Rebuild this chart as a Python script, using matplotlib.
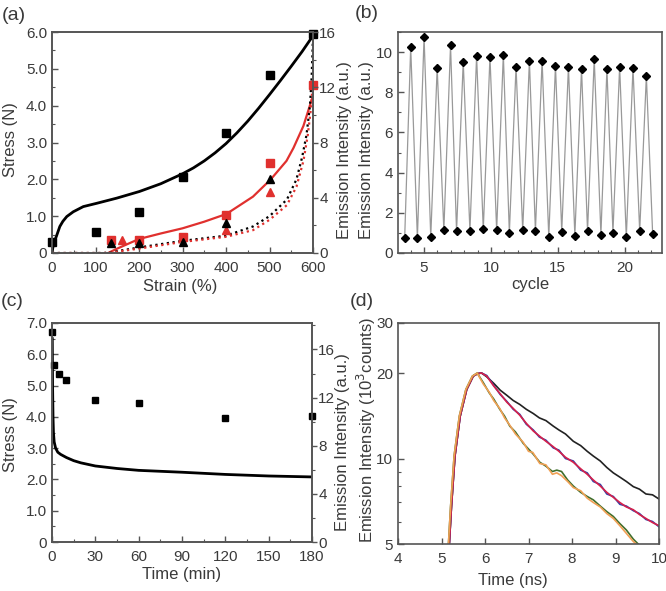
import matplotlib
matplotlib.use("Agg")
import matplotlib.pyplot as plt
from matplotlib.ticker import FixedLocator, NullFormatter, MultipleLocator

plt.rcParams['font.family'] = ['Liberation Sans', 'DejaVu Sans']
plt.rcParams['axes.linewidth'] = 1.2
plt.rcParams['text.color'] = '#333333'

W, H = 666, 591
SP = '#555555'
TXT = '#3a3a3a'
RED = '#e0302e'
TS = 11

# ---------------- data: panel (a) ----------------
a_yticks = [0, 1, 2, 3, 4, 5, 6]
a_yticklabels = ['0', '1.0', '2.0', '3.0', '4.0', '5.0', '6.0']
a_xticks = [0, 100, 200, 300, 400, 500, 600]
a_rticks = [0, 4, 8, 12, 16]

a_bk_fit_x = [0, 2, 5, 10, 18, 25, 34, 49, 72, 103, 149, 201, 250, 300, 325, 350, 375, 400, 425, 450, 475, 500, 525, 550, 575, 600]
a_bk_fit_y = [0, 0.15, 0.3, 0.45, 0.72, 0.86, 0.99, 1.12, 1.26, 1.35, 1.49, 1.67, 1.88, 2.15, 2.31, 2.5, 2.72, 2.97, 3.26, 3.58, 3.93, 4.3, 4.68, 5.07, 5.47, 5.9]
a_rd_fit_x = [129, 150, 200, 250, 300, 350, 401, 462, 503, 539, 555, 578, 600]
a_rd_fit_y = [0, 0.12, 0.38, 0.53, 0.67, 0.85, 1.06, 1.53, 2.0, 2.5, 2.85, 3.45, 4.27]
a_bk_dot_x = [0, 60, 120, 140, 200, 300, 400, 462, 500, 540, 562, 575, 585, 593, 597, 600]
a_bk_dot_y = [0, 0, 0, 0.03, 0.15, 0.33, 0.47, 0.72, 1.0, 1.45, 2.0, 2.6, 3.2, 4.0, 4.8, 5.9]
a_rd_dot_x = [0, 60, 120, 140, 200, 300, 400, 462, 500, 540, 562, 578, 588, 595, 600]
a_rd_dot_y = [0, 0, 0, 0.02, 0.12, 0.3, 0.44, 0.62, 0.9, 1.3, 1.8, 2.5, 3.2, 3.9, 4.7]

a_bk_sq_x = [0, 100, 200, 300, 400, 500, 600]
a_bk_sq_y = [0.31, 0.58, 1.11, 2.06, 3.27, 4.83, 5.95]
a_rd_sq_x = [135, 200, 300, 400, 500, 600]
a_rd_sq_y = [0.34, 0.36, 0.44, 1.03, 2.45, 4.55]
a_bk_tr_x = [135, 200, 300, 400, 500]
a_bk_tr_y = [0.28, 0.28, 0.3, 0.82, 2.01]
a_rd_tr_x = [160, 400, 500]
a_rd_tr_y = [0.35, 0.62, 1.66]

# ---------------- data: panel (b) ----------------
b_cycle = [3.55, 4.0, 4.5, 5.0, 5.5, 5.98, 6.48, 6.98, 7.43, 7.93, 8.43, 8.93, 9.43, 9.93,
           10.43, 10.93, 11.38, 11.88, 12.38, 12.88, 13.33, 13.83, 14.33, 14.83, 15.3,
           15.8, 16.28, 16.78, 17.23, 17.73, 18.23, 18.68, 19.13, 19.63, 20.13, 20.63,
           21.13, 21.63, 22.1]
b_intensity = [0.75, 10.25, 0.75, 10.75, 0.8, 9.22, 1.13, 10.33, 1.08, 9.52, 1.1, 9.8,
               1.17, 9.77, 1.13, 9.87, 1.0, 9.27, 1.13, 9.57, 1.1, 9.57, 0.8, 9.32, 1.07,
               9.27, 0.87, 9.17, 1.08, 9.67, 0.92, 9.17, 1.02, 9.27, 0.78, 9.22, 1.08,
               8.8, 0.95]
b_xticks = [5, 10, 15, 20]
b_yticks = [0, 2, 4, 6, 8, 10]

# ---------------- data: panel (c) ----------------
c_time_fit = [0.2, 0.4, 0.7, 1.0, 1.5, 2.5, 4, 6, 10, 15, 20, 30, 45, 60, 90, 120, 150, 180]
c_stress_fit = [6.5, 5.0, 4.0, 3.5, 3.2, 3.0, 2.87, 2.8, 2.7, 2.6, 2.53, 2.43, 2.35, 2.29, 2.23, 2.16, 2.11, 2.08]
c_time_pts = [0, 1.5, 5, 10, 30, 60, 120, 180]
c_emis_pts = [17.47, 14.68, 13.95, 13.46, 11.8, 11.56, 10.32, 10.47]
c_xticks = [0, 30, 60, 90, 120, 150, 180]
c_yticks = [0, 1, 2, 3, 4, 5, 6, 7]
c_yticklabels = ['0', '1.0', '2.0', '3.0', '4.0', '5.0', '6.0', '7.0']
c_rticks = [0, 4, 8, 12, 16]

# ---------------- data: panel (d) ----------------
d_t_bk = [5.10, 5.18, 5.23, 5.31, 5.43, 5.58, 5.73, 5.83, 5.92, 6.04, 6.2, 6.35, 6.5, 6.65, 6.8,
          6.95, 7.11, 7.25, 7.4, 7.57, 7.7, 7.85, 8.03, 8.2, 8.35, 8.49, 8.65, 8.8, 8.95, 9.1,
          9.25, 9.41, 9.55, 9.7, 9.85, 10.0]
d_black = [3.8, 5.0, 6.8, 10.2, 14.1, 17.5, 19.5, 19.9, 20.0, 19.4, 18.4, 17.4, 16.7, 16.0, 15.5,
           14.9, 14.4, 13.9, 13.6, 13.0, 12.6, 12.2, 11.5, 11.1, 10.6, 10.2, 9.8, 9.3, 8.9, 8.6,
           8.3, 7.96, 7.8, 7.5, 7.45, 7.2]
d_red = [3.8, 5.0, 6.8, 10.2, 14.1, 17.5, 19.5, 19.9, 20.0, 19.5, 18.0, 16.9, 15.8, 15.0, 14.2,
         13.3, 12.5, 12.0, 11.5, 11.0, 10.6, 10.1, 9.7, 9.2, 8.8, 8.4, 8.0, 7.6, 7.3, 7.0,
         6.75, 6.6, 6.35, 6.15, 5.95, 5.8]
d_blue = [3.8, 5.0, 6.8, 10.2, 14.1, 17.5, 19.5, 19.9, 20.0, 19.6, 18.1, 16.8, 15.9, 14.9, 14.3,
          13.2, 12.6, 11.9, 11.6, 10.9, 10.7, 10.0, 9.8, 9.1, 8.9, 8.3, 8.1, 7.5, 7.35, 6.9,
          6.8, 6.55, 6.4, 6.1, 6.0, 5.75]
d_t_gr = [5.08, 5.16, 5.21, 5.29, 5.41, 5.56, 5.71, 5.82, 5.96, 6.1, 6.2, 6.34, 6.45, 6.57, 6.7,
          6.88, 7.0, 7.1, 7.26, 7.4, 7.55, 7.65, 7.76, 7.9, 8.03, 8.2, 8.35, 8.49, 8.65, 8.8,
          8.95, 9.1, 9.25, 9.41, 9.55]
d_green = [3.8, 5.0, 6.8, 10.2, 14.1, 17.5, 19.5, 20.0, 18.5, 17.0, 16.2, 14.9, 14.1, 13.0, 12.4,
           11.3, 10.8, 10.4, 9.7, 9.4, 9.0, 9.1, 9.0, 8.4, 8.0, 7.6, 7.35, 7.15, 6.8, 6.5,
           6.25, 5.9, 5.6, 5.2, 4.95]
d_orange = [3.8, 5.0, 6.8, 10.2, 14.1, 17.5, 19.5, 20.0, 18.3, 17.1, 16.0, 15.0, 13.9, 13.1, 12.2,
            11.4, 10.6, 10.5, 9.6, 9.5, 8.8, 8.9, 8.7, 8.3, 7.9, 7.7, 7.25, 7.0, 6.75, 6.4,
            6.15, 5.8, 5.45, 5.1, 4.9]
d_xticks = [4, 5, 6, 7, 8, 9, 10]
d_yticks = [5, 10, 20, 30]
d_yminor = [6, 7, 8, 9]

# ---------------- figure ----------------
fig = plt.figure(figsize=(W / 100, H / 100), dpi=100)


def add_ax(l, t, r, b):
    return fig.add_axes([l / W, 1 - b / H, (r - l) / W, (b - t) / H])


def style(ax):
    for s in ax.spines.values():
        s.set_color(SP)
    ax.tick_params(which='both', direction='in', colors=SP, labelcolor=TXT, labelsize=TS,
                   top=False, right=False)
    ax.tick_params(which='major', length=4, width=1)
    ax.tick_params(which='minor', length=2.5, width=0.8)
    ax.tick_params(axis='x', which='major', pad=5.5)


def style_right(axr):
    for s in axr.spines.values():
        s.set_color(SP)
    axr.tick_params(which='both', direction='out', colors=SP, labelcolor=TXT, labelsize=TS, pad=1)
    axr.tick_params(which='major', length=3.5, width=1)
    axr.tick_params(which='minor', length=2.5, width=0.8)


def ftext(x, y, s, rot=0, size=12):
    fig.text(x / W, 1 - y / H, s, rotation=rot, ha='center', va='center', fontsize=size, color=TXT)


# (a)
ax = add_ax(52, 32, 313, 253)
style(ax)
ax.plot(a_bk_fit_x, a_bk_fit_y, color='black', lw=2)
ax.plot(a_rd_fit_x, a_rd_fit_y, color=RED, lw=1.6)
ax.plot(a_bk_dot_x, a_bk_dot_y, color='black', lw=1.6, ls=(0, (1, 1.6)))
ax.plot(a_rd_dot_x, a_rd_dot_y, color=RED, lw=1.6, ls=(0, (1, 1.6)))
ax.plot(a_bk_sq_x, a_bk_sq_y, 's', color='black', ms=5.5, clip_on=False)
ax.plot(a_rd_sq_x, a_rd_sq_y, 's', color=RED, ms=5.5, clip_on=False)
ax.plot(a_rd_tr_x, a_rd_tr_y, '^', color=RED, ms=5.5, clip_on=False)
ax.plot(a_bk_tr_x, a_bk_tr_y, '^', color='black', ms=5.5, clip_on=False)
ax.set_xlim(0, 600)
ax.set_ylim(0, 6)
ax.set_xticks(a_xticks)
ax.set_yticks(a_yticks)
ax.set_yticklabels(a_yticklabels)
ax.xaxis.set_minor_locator(MultipleLocator(50))
ax.yaxis.set_minor_locator(MultipleLocator(0.5))
axr = ax.twinx()
axr.set_ylim(0, 16)
axr.set_yticks(a_rticks)
axr.yaxis.set_minor_locator(MultipleLocator(2))
style_right(axr)
ftext(11, 140, 'Stress (N)', rot=90)
ftext(180, 286, 'Strain (%)')
ftext(344, 150, 'Emission Intensity (a.u.)', rot=90)
ftext(14, 15, '(a)', size=14)

# (b)
ax = add_ax(398, 32, 662, 253)
style(ax)
ax.plot(b_cycle, b_intensity, color='#999999', lw=0.9, marker='D', ms=3.8,
        mfc='black', mec='black')
ax.set_xlim(3.05, 22.8)
ax.set_ylim(0, 11)
ax.set_xticks(b_xticks)
ax.set_yticks(b_yticks)
ax.xaxis.set_minor_locator(MultipleLocator(1))
ax.yaxis.set_minor_locator(MultipleLocator(1))
ftext(366, 150, 'Emission Intensity (a.u.)', rot=90)
ftext(530, 284, 'cycle')
ftext(367, 13, '(b)', size=14)

# (c)
ax = add_ax(52, 323, 312, 542)
style(ax)
ax.plot(c_time_fit, c_stress_fit, color='black', lw=2)
ax.set_xlim(0, 180)
ax.set_ylim(0, 7)
ax.set_xticks(c_xticks)
ax.set_yticks(c_yticks)
ax.set_yticklabels(c_yticklabels)
ax.xaxis.set_minor_locator(MultipleLocator(15))
ax.yaxis.set_minor_locator(MultipleLocator(0.5))
axr = ax.twinx()
axr.plot(c_time_pts, c_emis_pts, 's', color='black', ms=5, clip_on=False)
axr.set_ylim(0, 18.2)
axr.set_yticks(c_rticks)
axr.yaxis.set_minor_locator(MultipleLocator(2))
style_right(axr)
ftext(11, 435, 'Stress (N)', rot=90)
ftext(182, 574, 'Time (min)')
ftext(342, 442, 'Emission Intensity (a.u.)', rot=90)
ftext(12, 301, '(c)', size=14)

# (d)
ax = add_ax(398, 323, 659, 544)
style(ax)
ax.plot(d_t_bk, d_black, color='#222222', lw=1.2)
ax.plot(d_t_bk, d_blue, color='#3040a8', lw=1.2)
ax.plot(d_t_bk, d_red, color='#d6204a', lw=1.2)
ax.plot(d_t_gr, d_green, color='#3f6e2c', lw=1.2)
ax.plot(d_t_gr, d_orange, color='#f0a055', lw=1.2)
ax.set_yscale('log')
ax.set_xlim(4, 10)
ax.set_ylim(5, 30)
ax.set_xticks(d_xticks)
ax.yaxis.set_major_locator(FixedLocator(d_yticks))
ax.yaxis.set_minor_locator(FixedLocator(d_yminor))
ax.yaxis.set_minor_formatter(NullFormatter())
ax.set_yticklabels([str(v) for v in d_yticks])
ftext(366, 430, 'Emission Intensity (10$^3$counts)', rot=90)
ftext(513, 580, 'Time (ns)')
ftext(362, 301, '(d)', size=14)

fig.savefig('out.png', dpi=100)
